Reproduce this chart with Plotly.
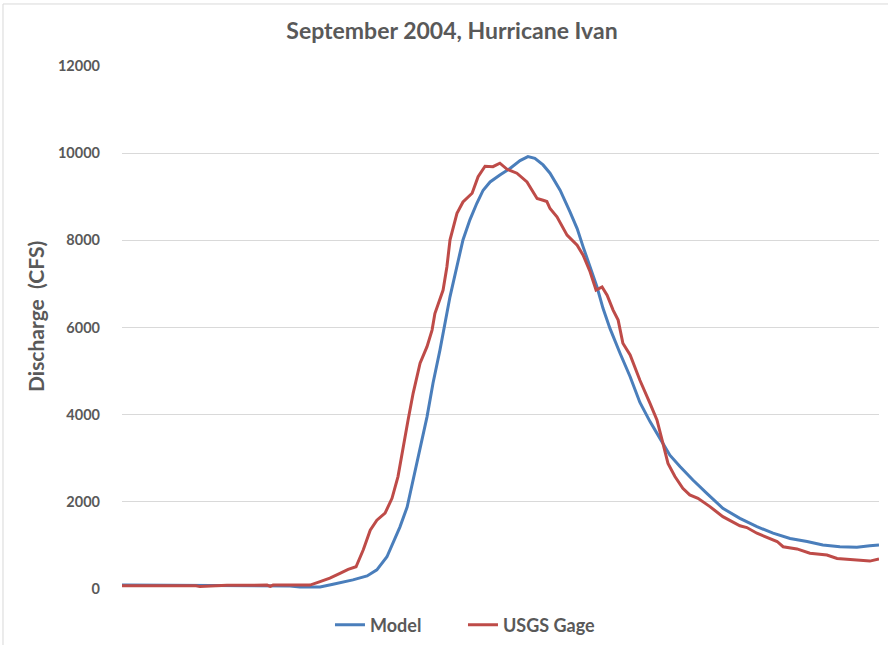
import plotly.graph_objects as go

# Time axis (hours from start of record)
model_hours = [0.0, 24.7, 53.3, 56.4, 62.8, 66.9, 73.2, 77.7, 80.8, 84.0, 85.9, 88.1, 90.4, 92.3,
               94.5, 96.7, 98.6, 100.8, 104.0, 106.2, 108.1, 110.3, 112.5, 114.5, 116.7, 119.8,
               123.0, 126.2, 128.7, 130.9, 133.5, 135.7, 138.9, 142.0, 144.3, 146.2, 148.4, 150.6,
               152.5, 154.7, 157.9, 161.1, 164.2, 167.4, 170.6, 173.7, 176.9, 181.0, 185.5, 190.5,
               195.9, 201.3, 206.4, 211.8, 217.2, 222.2, 227.6, 233.0, 237.1, 240.0]
model_cfs = [90, 80, 70, 45, 45, 110, 210, 300, 440, 740, 1050, 1420, 1880, 2500,
             3190, 3950, 4720, 5480, 6710, 7390, 8010, 8470, 8850, 9150, 9340, 9500,
             9650, 9830, 9920, 9880, 9730, 9540, 9150, 8660, 8270, 7850, 7390, 6930,
             6440, 5980, 5410, 4870, 4280, 3840, 3450, 3070, 2810, 2500, 2190, 1850,
             1620, 1430, 1280, 1160, 1090, 1010, 970, 960, 990, 1010]

gage_hours = [0.0, 23.5, 24.7, 33.3, 46.0, 47.0, 47.9, 59.6, 62.8, 65.9, 69.1, 71.7, 74.2, 76.5,
              78.7, 80.8, 83.4, 85.6, 87.5, 89.1, 90.7, 92.3, 94.5, 96.7, 98.3, 99.2, 101.8,
              103.0, 104.0, 106.2, 108.1, 111.0, 112.9, 115.1, 117.6, 119.8, 122.1, 125.2, 128.4,
              130.0, 131.6, 133.5, 134.7, 135.7, 137.9, 141.1, 144.3, 146.2, 148.4, 150.3, 152.2,
              153.8, 155.7, 157.3, 158.8, 161.1, 164.2, 167.4, 169.6, 171.5, 173.1, 175.3, 177.8,
              180.0, 182.6, 186.4, 190.5, 195.9, 198.1, 201.3, 207.7, 209.6, 214.0, 218.1, 223.5,
              226.7, 233.0, 237.1, 240.0]
gage_cfs = [75, 75, 55, 85, 90, 60, 90, 90, 170, 250, 360, 450, 510, 900,
            1350, 1580, 1740, 2080, 2580, 3260, 3880, 4490, 5180, 5560, 5940, 6320, 6860,
            7390, 8010, 8620, 8880, 9080, 9460, 9700, 9690, 9770, 9630, 9540, 9340,
            9150, 8960, 8920, 8890, 8730, 8540, 8120, 7890, 7660, 7280, 6860, 6930,
            6740, 6400, 6170, 5640, 5370, 4790, 4260, 3880, 3340, 2880, 2580, 2310,
            2160, 2080, 1890, 1660, 1450, 1410, 1280, 1090, 970, 920, 820, 780,
            700, 670, 640, 690]

y_ticks = [0, 2000, 4000, 6000, 8000, 10000, 12000]
y_tick_labels = ["0", "2000", "4000", "6000", "8000", "10000", "12000"]

FONT = "Lato"
GREY = "#595959"

fig = go.Figure()
fig.add_trace(go.Scatter(x=model_hours, y=model_cfs, mode="lines", name="<b>Model</b>",
                         line=dict(color="#4A7EBB", width=3)))
fig.add_trace(go.Scatter(x=gage_hours, y=gage_cfs, mode="lines", name="<b>USGS Gage</b>",
                         line=dict(color="#BE4B48", width=3)))

fig.update_layout(
    width=888, height=645,
    margin=dict(l=122, r=9, t=66, b=56),
    paper_bgcolor="white", plot_bgcolor="white",
    title=dict(text="<b>September 2004, Hurricane Ivan</b>", x=0.509, xref="container",
               xanchor="center", y=0.952, yref="container", yanchor="middle",
               font=dict(family=FONT, size=23, color=GREY)),
    font=dict(family=FONT, color=GREY),
    showlegend=True,
    legend=dict(orientation="h", x=0.3716, xanchor="left", xref="container",
                y=0.031, yref="container", yanchor="middle",
                font=dict(family=FONT, size=18, color=GREY),
                itemwidth=30, tracegroupgap=0, entrywidth=88, entrywidthmode="pixels"),
    xaxis=dict(range=[0, 240], showticklabels=False, showgrid=False, zeroline=False,
               showline=False, ticks=""),
    yaxis=dict(range=[0, 12000], tickvals=y_ticks, ticktext=[f"<b>{t}</b>" for t in y_tick_labels],
               tickfont=dict(family=FONT, size=14.5, color=GREY),
               showgrid=True, gridcolor="#D9D9D9", gridwidth=1, zeroline=False,
               showline=False, ticks="", ticklabelstandoff=21),
    annotations=[dict(text="<b>Discharge\u00a0\u00a0(CFS)</b>", textangle=-90,
                      xref="paper", yref="paper", x=(35 - 122) / 757, y=(589 - 317) / 523,
                      xanchor="center", yanchor="middle", showarrow=False,
                      font=dict(family=FONT, size=21, color=GREY))],
    shapes=[dict(type="rect", xref="paper", yref="paper",
                 x0=-0.1572, x1=1.0145, y0=-0.1166, y1=1.1186,
                 line=dict(color="#D9D9D9", width=1), fillcolor="rgba(0,0,0,0)", layer="below")],
)

fig.write_html("out.html", config={"displayModeBar": False},
               post_script="document.body.style.margin='0';document.body.style.padding='0';")
